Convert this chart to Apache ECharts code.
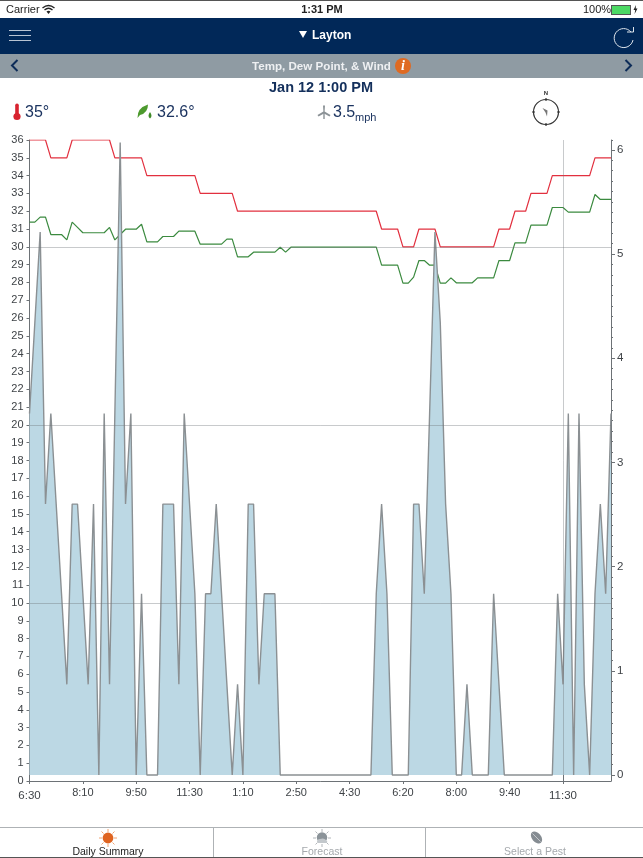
<!DOCTYPE html>
<html>
<head>
<meta charset="utf-8">
<title>Temp, Dew Point, & Wind</title>
<script src="https://cdn.jsdelivr.net/npm/echarts@6/dist/echarts.min.js"></script>
<style>
html, body { margin: 0; padding: 0; background: #fff; font-family: "Liberation Sans", sans-serif; }
#page { position: relative; width: 643px; height: 858px; overflow: hidden; }
#chart { position: absolute; left: 0; top: 0; width: 643px; height: 858px; }
.t { position: absolute; white-space: nowrap; line-height: 1; }
.b { position: absolute; }
svg { position: absolute; overflow: visible; }
</style>
</head>
<body>
<div id="page">
  <div id="chart"></div>

  <div class="b" style="left:0;top:0;width:643px;height:1px;background:#555"></div>
  <div class="t" style="left:6px;top:4px;font-size:11px;color:#222">Carrier</div>
  <svg style="left:42px;top:5px" width="13" height="9" viewBox="0 0 13 9"><path d="M0.5 3 Q6.5 -2 12.5 3 M2.5 5 Q6.5 1.5 10.5 5" fill="none" stroke="#222" stroke-width="1.4"/><path d="M4.5 6.5 Q6.5 5 8.5 6.5 L6.5 9 Z" fill="#222"/></svg>
  <div class="t" style="left:272px;width:100px;text-align:center;top:4px;font-size:11px;font-weight:bold;color:#222">1:31 PM</div>
  <div class="t" style="left:583px;top:4px;font-size:11px;color:#222">100%</div>
  <div class="b" style="left:611px;top:5px;width:18px;height:8px;background:#4cd964;border:0.5px solid #555"></div>
  <div class="b" style="left:630px;top:8px;width:1px;height:3px;background:#555"></div>
  <svg style="left:633px;top:5px" width="5" height="9" viewBox="0 0 5 9"><path d="M3 0 L0.5 5 L2.2 5 L1.6 9 L4.5 3.6 L2.7 3.6 Z" fill="#222"/></svg>

  <div class="b" style="left:0;top:18px;width:643px;height:36px;background:#012858"></div>
  <div class="b" style="left:9px;top:30px;width:22px;height:1px;background:#b9c4d3"></div>
  <div class="b" style="left:9px;top:35px;width:22px;height:1px;background:#b9c4d3"></div>
  <div class="b" style="left:9px;top:40px;width:22px;height:1px;background:#b9c4d3"></div>
  <svg style="left:299px;top:31px" width="8" height="7" viewBox="0 0 8 7"><path d="M0 0 H8 L4 7 Z" fill="#fff"/></svg>
  <div class="t" style="left:312px;top:29px;font-size:12px;font-weight:bold;color:#fff">Layton</div>
  <svg style="left:612px;top:25px" width="24" height="24" viewBox="0 0 24 24"><path d="M19 7 A9.5 9.5 0 1 0 21 15" fill="none" stroke="#dfe5ec" stroke-width="1"/><path d="M15 7 H21.5 V2" fill="none" stroke="#dfe5ec" stroke-width="1"/></svg>

  <div class="b" style="left:0;top:54px;width:643px;height:24px;background:#8f9ba3"></div>
  <svg style="left:10px;top:59px" width="9" height="13" viewBox="0 0 9 13"><path d="M7.5 1 L2 6.5 L7.5 12" fill="none" stroke="#0d2c58" stroke-width="2"/></svg>
  <svg style="left:624px;top:59px" width="9" height="13" viewBox="0 0 9 13"><path d="M1.5 1 L7 6.5 L1.5 12" fill="none" stroke="#0d2c58" stroke-width="2"/></svg>
  <div class="t" style="left:252px;top:60px;font-size:11.6px;font-weight:bold;color:#eef0f2">Temp, Dew Point, &amp; Wind</div>
  <div class="b" style="left:395px;top:58px;width:16px;height:16px;border-radius:8px;background:#df6a22"></div>
  <div class="t" style="left:395px;width:16px;text-align:center;top:59px;font-size:14px;font-weight:bold;font-style:italic;font-family:'Liberation Serif',serif;color:#fff">i</div>

  <div class="t" style="left:221px;width:200px;text-align:center;top:80px;font-size:14.5px;font-weight:bold;color:#14305c">Jan 12 1:00 PM</div>

  <svg style="left:13px;top:103px" width="8" height="18" viewBox="0 0 8 18"><rect x="2.2" y="0.5" width="3.6" height="12" rx="1.8" fill="#d8232f"/><circle cx="4" cy="13.5" r="3.6" fill="#d8232f"/></svg>
  <div class="t" style="left:25px;top:104px;font-size:16px;color:#1c3460">35°</div>
  <svg style="left:137px;top:104px" width="16" height="15" viewBox="0 0 16 15"><path d="M0.5 14 Q0 4 11 0.5 Q11 9 3 11 Z" fill="#4d9a2e"/><path d="M13 8 Q16 12 13 14.5 Q10 12 13 8 Z" fill="#3f8a28"/></svg>
  <div class="t" style="left:157px;top:104px;font-size:16px;color:#1c3460">32.6°</div>
  <svg style="left:317px;top:105px" width="14" height="14" viewBox="0 0 14 14"><path d="M6 0.5 H8 L7.6 6.5 L13.5 10 L12.5 11.5 L7 8.5 L1.5 11.5 L0.5 10 L6.4 6.5 Z" fill="#8b9296"/><rect x="6.3" y="7" width="1.4" height="7" fill="#8b9296"/></svg>
  <div class="t" style="left:333px;top:104px;font-size:16px;color:#1c3460">3.5</div>
  <div class="t" style="left:355px;top:112px;font-size:11px;color:#1c3460">mph</div>

  <div class="t" style="left:536px;width:20px;text-align:center;top:90px;font-size:6px;font-weight:bold;color:#333">N</div>
  <svg style="left:532px;top:98px" width="28" height="28" viewBox="0 0 28 28"><circle cx="14" cy="14" r="12.5" fill="#fff" stroke="#333" stroke-width="1.2"/><path d="M14 0 V3 M14 25 V28 M0 14 H3 M25 14 H28" stroke="#333" stroke-width="1.2"/><path d="M10.5 10 L15.5 12.5 L15 18.5 L13.5 14.5 Z" fill="#777"/></svg>

  <div class="b" style="left:0;top:827px;width:643px;height:1px;background:#aeb2b5"></div>
  <div class="b" style="left:213px;top:828px;width:1px;height:29px;background:#aeb2b5"></div>
  <div class="b" style="left:425px;top:828px;width:1px;height:29px;background:#aeb2b5"></div>
  <div class="b" style="left:0;top:857px;width:643px;height:1px;background:#555"></div>
  <svg style="left:98px;top:829px" width="20" height="18" viewBox="0 0 20 18"><path d="M10 0 V3 M10 15 V18 M1 9 H4 M16 9 H19 M3.5 2.5 L5.5 4.5 M16.5 2.5 L14.5 4.5 M3.5 15.5 L5.5 13.5 M16.5 15.5 L14.5 13.5" stroke="#ef9a62" stroke-width="0.9"/><circle cx="10" cy="9" r="5.4" fill="#df6420"/></svg>
  <div class="t" style="left:58px;width:100px;text-align:center;top:846px;font-size:10.5px;color:#222">Daily Summary</div>
  <svg style="left:312px;top:829px" width="20" height="18" viewBox="0 0 20 18"><path d="M10 0 V3 M1 9 H4 M16 9 H19 M3.5 2.5 L5.5 4.5 M16.5 2.5 L14.5 4.5 M3.5 15.5 L5.5 13.5 M16.5 15.5 L14.5 13.5 M10 15 V18" stroke="#a9aeb2" stroke-width="0.9"/><circle cx="10" cy="8.5" r="5.2" fill="#8b9399"/><path d="M5 13 Q5 10 8 10 Q12 8.5 14 11 Q16 12 15 14 H6 Z" fill="#c3c8cc"/></svg>
  <div class="t" style="left:272px;width:100px;text-align:center;top:846px;font-size:10.5px;color:#a5a9ad">Forecast</div>
  <svg style="left:529px;top:830px" width="15" height="15" viewBox="0 0 15 15"><ellipse cx="7.5" cy="7.5" rx="4.5" ry="7" transform="rotate(-40 7.5 7.5)" fill="#858c92"/><path d="M3.5 3.5 L11.5 11.5" stroke="#d5d8da" stroke-width="0.8"/></svg>
  <div class="t" style="left:485px;width:100px;text-align:center;top:846px;font-size:10.5px;color:#a5a9ad">Select a Pest</div>
</div>

<script>
// one reading every 10 minutes, the clock in the app jumps twice
const times = [
  '6:30','6:40','6:50','7:00','7:10','7:20','7:30','7:40','7:50','8:00',
  '8:10','8:20','8:30','8:40','8:50','9:00','9:10','9:20','9:30','9:40',
  '9:50','10:00','10:10','10:20','10:30','10:40','10:50','11:00','11:10','11:20',
  '11:30','11:40','11:50','12:00','12:10','12:20','12:30','12:40','12:50','1:00',
  '1:10','1:20','1:30','1:40','1:50','2:00','2:10','2:20','2:30','2:40',
  '2:50','3:00','3:10','3:20','3:30','3:40','3:50','4:00','4:10','4:20',
  '4:30','4:40','4:50','5:00','5:10','5:20','5:30','5:40','5:50','6:00',
  '6:20','6:30','6:40','6:50','7:00','7:10','7:20','7:30','7:40','7:50',
  '8:00','8:10','8:20','8:30','8:40','8:50','9:00','9:10','9:20','9:30',
  '9:40','9:50','10:00','10:10','10:20','10:30','10:40','10:50','11:00','11:10',
  '11:30','11:40','11:50','12:00','12:10','12:20','12:30','12:40','12:50','1:00'
];
const temp = [
  36,36,36,36,35,35,35,35,36,36,
  36,36,36,36,36,36,35,35,35,35,
  35,35,34,34,34,34,34,34,34,34,
  34,34,33,33,33,33,33,33,33,32,
  32,32,32,32,32,32,32,32,32,32,
  32,32,32,32,32,32,32,32,32,32,
  32,32,32,32,32,32,31,31,31,31,
  30,30,30,31,31,31,31,30,30,30,
  30,30,30,30,30,30,30,30,31,31,
  31,32,32,32,33,33,33,33,34,34,
  34,34,34,34,34,34,35,35,35,35
];
const dewPoint = [
  31.39,31.39,31.67,31.67,30.69,30.69,30.69,30.39,31.39,31.09,
  30.79,30.79,30.79,30.79,30.79,31.09,30.39,30.69,30.99,30.99,
  30.99,31.27,30.28,30.28,30.28,30.58,30.58,30.58,30.88,30.88,
  30.88,30.88,30.15,30.15,30.15,30.15,30.15,30.43,30.43,29.44,
  29.44,29.44,29.70,29.70,29.70,29.70,29.70,29.98,29.70,29.98,
  29.98,29.98,29.98,29.98,29.98,29.98,29.98,29.98,29.98,29.98,
  29.98,29.98,29.98,29.98,29.98,29.98,28.97,28.97,28.97,28.97,
  27.96,27.96,28.30,29.23,29.23,28.97,28.97,27.96,27.96,28.26,
  27.98,27.98,27.98,27.98,28.26,28.26,28.26,28.26,29.23,29.23,
  29.23,30.22,30.22,30.22,31.22,31.22,31.22,31.22,32.21,32.21,
  32.21,31.95,31.95,31.95,31.95,31.95,32.94,32.66,32.66,32.66
];
const wind = [
  3.47,4.34,5.21,2.60,3.47,2.60,1.74,0.87,2.60,2.60,
  1.74,0.87,2.60,0,3.47,0.87,3.47,6.07,2.60,3.47,
  0,1.74,0,0,0,2.60,2.60,2.60,0.87,3.47,
  2.60,1.74,0,1.74,1.74,2.60,1.74,0.87,0,0.87,
  0,2.60,2.60,0.87,1.74,1.74,1.74,0,0,0,
  0,0,0,0,0,0,0,0,0,0,
  0,0,0,0,0,1.74,2.60,1.74,0,0,
  0,0,2.60,2.60,1.74,3.47,5.21,4.34,2.60,1.74,
  0,0,0.87,0,0,0,0,1.74,0.87,0,
  0,0,0,0,0,0,0,0,0,1.74,
  0.87,3.47,0,3.47,0.87,0,1.74,2.60,1.74,3.47
];
const tempLines = [10, 20, 30];
const selectedIndex = 100;
const windMin = -0.0576;
const windMax = 6.094;
const windLabels = [0, 1, 2, 3, 4, 5, 6];
const windTicks = [
  0,0.1,0.2,0.3,0.4,0.5,0.6,0.7,0.8,0.9,1,1.1,1.2,1.3,1.4,1.5,1.6,1.7,1.8,1.9,
  2,2.1,2.2,2.3,2.4,2.5,2.6,2.7,2.8,2.9,3,3.1,3.2,3.3,3.4,3.5,3.6,3.7,3.8,3.9,
  4,4.1,4.2,4.3,4.4,4.5,4.6,4.7,4.8,4.9,5,5.1,5.2,5.3,5.4,5.5,5.6,5.7,5.8,5.9,6,windMax
];

const axisColor = '#6d7276';
const labelColor = '#3f4347';
const guideColor = 'rgba(110,115,120,0.38)';
const font = '"Liberation Sans", sans-serif';

const myChart = echarts.init(document.getElementById('chart'));

const guides = tempLines.map(function (v) { return { yAxis: v }; });

myChart.setOption({
  animation: false,
  grid: { left: 29.5, top: 140, width: 581.5, height: 641, containLabel: false },
  xAxis: [{
    type: 'category',
    data: times,
    boundaryGap: false,
    position: 'bottom',
    axisLine: { lineStyle: { color: axisColor, width: 1 } },
    axisTick: { length: 3, interval: function (i) { return i % 10 === 0; }, lineStyle: { color: axisColor } },
    axisLabel: {
      interval: function (i) { return i % 10 === 0; },
      formatter: function (v, i) { return (i === 0 || i === selectedIndex) ? '{low|' + v + '}' : v; },
      rich: { low: { fontSize: 11.5, color: labelColor, fontFamily: font, padding: [3, 0, 0, 0] } },
      margin: 6, fontSize: 11, color: labelColor, fontFamily: font
    },
    splitLine: { show: false }
  }, {
    // only carries the longer tick under the selected reading
    type: 'category',
    data: times,
    boundaryGap: false,
    position: 'bottom',
    axisLine: { show: false },
    axisLabel: { show: false },
    axisTick: { length: 6, interval: function (i) { return i === selectedIndex; }, lineStyle: { color: axisColor } },
    splitLine: { show: false }
  }],
  yAxis: [{
    type: 'value',
    position: 'left',
    min: 0,
    max: 36,
    interval: 1,
    axisLine: { show: true, lineStyle: { color: axisColor } },
    axisTick: { show: true, length: 3, lineStyle: { color: axisColor } },
    axisLabel: { margin: 6, fontSize: 11, color: labelColor, fontFamily: font },
    splitLine: { show: false }
  }, {
    type: 'value',
    position: 'right',
    min: windMin,
    max: windMax,
    axisLine: { show: true, lineStyle: { color: axisColor } },
    axisTick: { show: true, length: 2, customValues: windTicks, lineStyle: { color: axisColor } },
    axisLabel: { show: false },
    splitLine: { show: false }
  }, {
    type: 'value',
    position: 'right',
    min: windMin,
    max: windMax,
    axisLine: { show: false },
    axisTick: { show: true, length: 4, customValues: windLabels, lineStyle: { color: axisColor } },
    axisLabel: { show: true, customValues: windLabels, margin: 6, fontSize: 11.5, color: labelColor, fontFamily: font },
    splitLine: { show: false }
  }],
  series: [{
    name: 'Temp',
    type: 'line',
    data: temp,
    showSymbol: false,
    lineStyle: { color: '#e2303f', width: 1.2 },
    z: 2,
    markLine: {
      silent: true,
      symbol: 'none',
      animation: false,
      label: { show: false },
      lineStyle: { color: guideColor, width: 1, type: 'solid' },
      data: guides.concat([{ xAxis: selectedIndex }])
    }
  }, {
    name: 'Dew Point',
    type: 'line',
    data: dewPoint,
    showSymbol: false,
    lineStyle: { color: '#3b8a3f', width: 1.2 },
    z: 2
  }, {
    name: 'Wind',
    type: 'line',
    yAxisIndex: 1,
    data: wind,
    showSymbol: false,
    lineStyle: { color: '#8b9093', width: 1.4 },
    areaStyle: { color: '#bcd8e4', opacity: 1 },
    z: 3
  }]
});
</script>
</body>
</html>
